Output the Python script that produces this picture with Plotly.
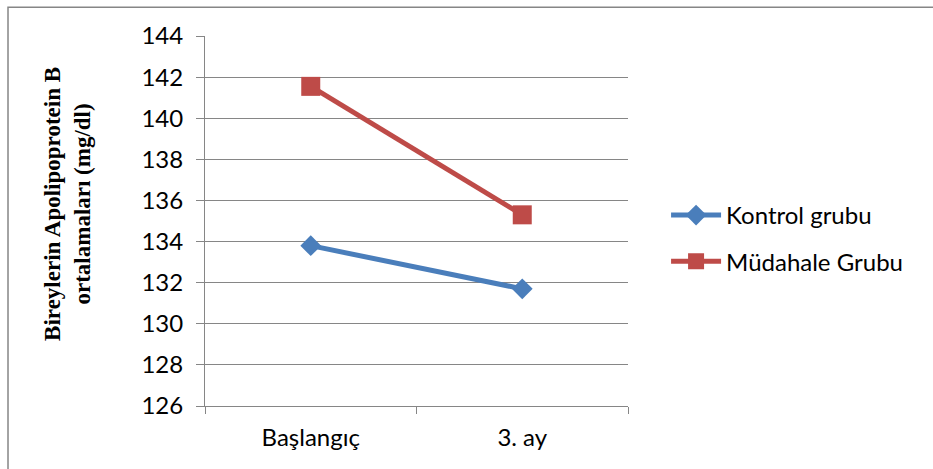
import plotly.graph_objects as go

# Data
categories = ["Başlangıç", "3. ay"]
kontrol = [133.8, 131.7]
mudahale = [141.55, 135.3]
series_names = ["Kontrol grubu", "Müdahale Grubu"]
y_ticks = [126, 128, 130, 132, 134, 136, 138, 140, 142, 144]

BLUE = "#4A7EBB"
RED = "#BE4B48"
GRID = "#868686"
SANS = "Lato, Open Sans, sans-serif"
TICK_FONT = dict(family=SANS, size=24, color="#000000")

fig = go.Figure()
fig.add_trace(go.Scatter(
    x=categories, y=kontrol, name=series_names[0], mode="lines+markers",
    line=dict(color=BLUE, width=5),
    marker=dict(symbol="diamond", size=16, color=BLUE),
    legend="legend",
))
fig.add_trace(go.Scatter(
    x=categories, y=mudahale, name=series_names[1], mode="lines+markers",
    line=dict(color=RED, width=5),
    marker=dict(symbol="square", size=19, color=RED),
    legend="legend2",
))

legend_common = dict(xanchor="left", yanchor="middle", itemwidth=50,
                     font=dict(family=SANS, size=24, color="#000"),
                     bgcolor="rgba(0,0,0,0)")

fig.update_layout(
    width=933, height=469,
    margin=dict(l=205, r=305, t=36, b=63),
    paper_bgcolor="white", plot_bgcolor="white",
    showlegend=True,
    legend=dict(x=1.09, y=0.515, **legend_common),
    legend2=dict(x=1.09, y=0.39, **legend_common),
    xaxis=dict(
        type="category", range=[-0.5, 1.5],
        tickson="boundaries", ticks="outside", ticklen=7, tickcolor=GRID, tickwidth=1,
        showline=True, linecolor=GRID, linewidth=1,
        showgrid=False, zeroline=False,
        tickfont=TICK_FONT, ticklabelstandoff=10,
    ),
    yaxis=dict(
        range=[126, 144], tickvals=y_ticks,
        ticks="outside", ticklen=8, tickcolor=GRID, tickwidth=1,
        showline=True, linecolor=GRID, linewidth=1,
        showgrid=True, gridcolor=GRID, gridwidth=1,
        zeroline=False, tickfont=TICK_FONT, ticklabelstandoff=8,
    ),
    annotations=[dict(
        text="<b>Bireylerin Apolipoprotein B<br>ortalamaları (mg/dl)</b>",
        xref="paper", yref="paper", x=-0.325, y=0.545,
        xanchor="center", yanchor="middle", textangle=-90, showarrow=False,
        font=dict(family="Liberation Serif, Times New Roman, serif", size=23, color="#000"),
        align="center",
    )],
    shapes=[dict(
        type="rect", xref="paper", yref="paper",
        x0=-0.4657, x1=2.0, y0=-1.0, y1=1.0775,
        line=dict(color=GRID, width=1.5), fillcolor="rgba(0,0,0,0)", layer="below",
    )],
)

fig.write_html("out.html")
